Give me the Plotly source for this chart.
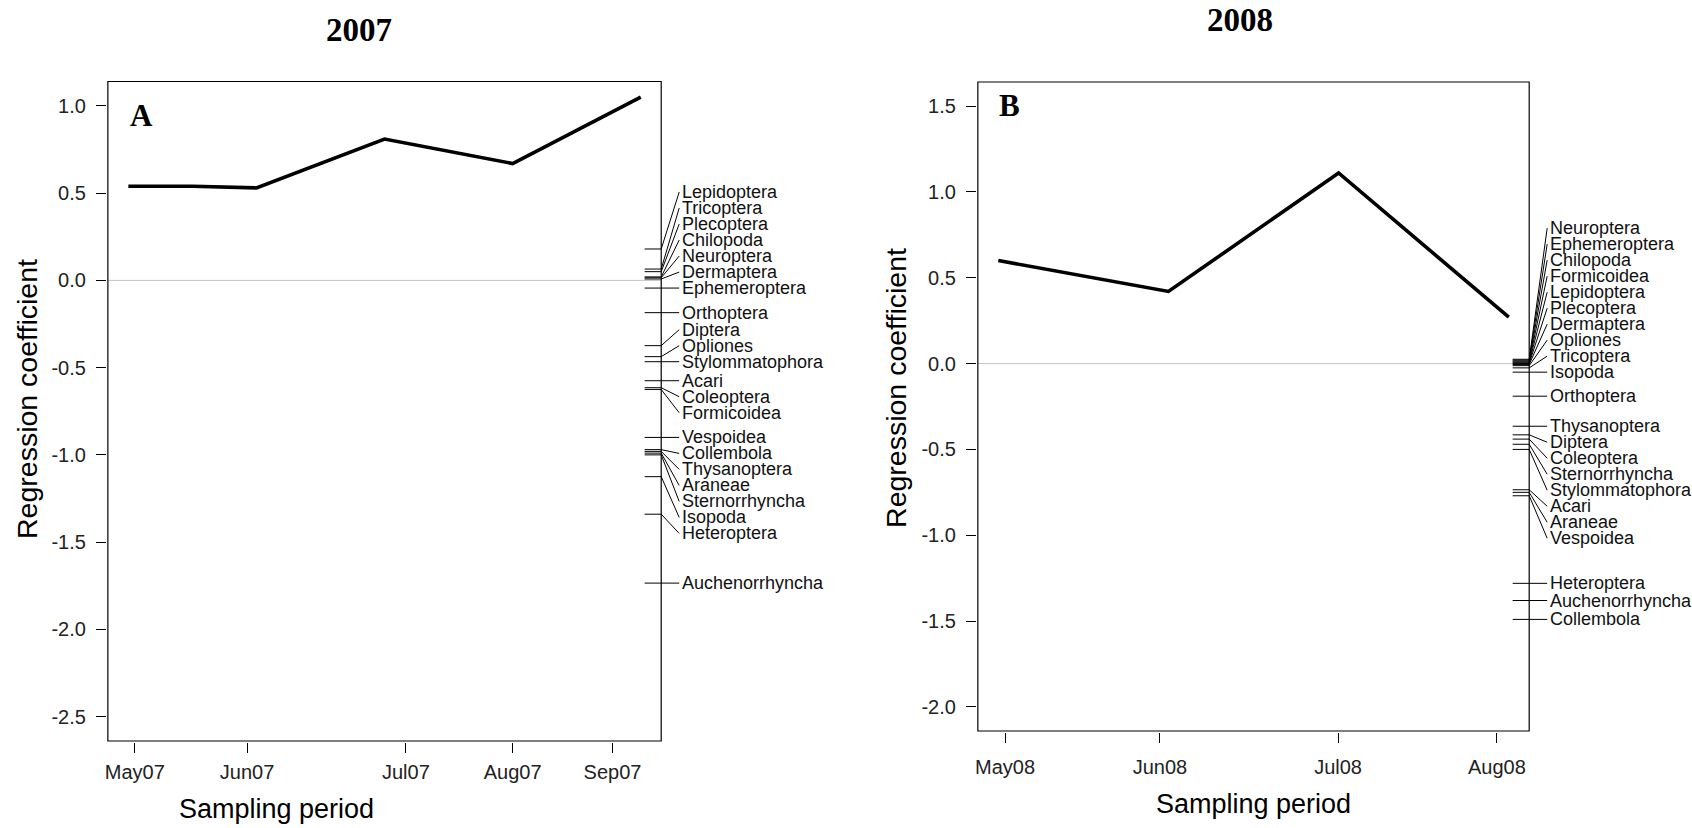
import plotly.graph_objects as go

FIG_W, FIG_H = 1692, 828
SANS = "Liberation Sans, Arial, sans-serif"
SERIF = "Liberation Serif, Times New Roman, serif"

# ---------------- 2007 ----------------
days_2007 = [0, 15, 30, 60, 90, 120]
response_2007 = [0.54, 0.54, 0.53, 0.81, 0.67, 1.05]
month_pos_2007 = [1.5, 27.8, 65.0, 90.0, 113.4]
month_lab_2007 = ["May07", "Jun07", "Jul07", "Aug07", "Sep07"]
yticks_2007 = [1.0, 0.5, 0.0, -0.5, -1.0, -1.5, -2.0, -2.5]
taxa_2007 = ["Lepidoptera", "Tricoptera", "Plecoptera", "Chilopoda", "Neuroptera",
             "Dermaptera", "Ephemeroptera", "Orthoptera", "Diptera", "Opliones",
             "Stylommatophora", "Acari", "Coleoptera", "Formicoidea", "Vespoidea",
             "Collembola", "Thysanoptera", "Araneae", "Sternorrhyncha", "Isopoda",
             "Heteroptera", "Auchenorrhyncha"]
weights_2007 = [0.18, 0.065, 0.05, 0.02, 0.015,
                0.008, -0.044, -0.185, -0.374, -0.437,
                -0.466, -0.575, -0.615, -0.625, -0.90,
                -0.97, -0.98, -0.99, -1.0, -1.125,
                -1.34, -1.735]

# ---------------- 2008 ----------------
days_2008 = [0, 30, 60, 90]
response_2008 = [0.60, 0.42, 1.11, 0.27]
month_pos_2008 = [1.2, 28.5, 59.9, 87.9]
month_lab_2008 = ["May08", "Jun08", "Jul08", "Aug08"]
yticks_2008 = [1.5, 1.0, 0.5, 0.0, -0.5, -1.0, -1.5, -2.0]
taxa_2008 = ["Neuroptera", "Ephemeroptera", "Chilopoda", "Formicoidea", "Lepidoptera",
             "Plecoptera", "Dermaptera", "Opliones", "Tricoptera", "Isopoda",
             "Orthoptera", "Thysanoptera", "Diptera", "Coleoptera", "Sternorrhyncha",
             "Stylommatophora", "Acari", "Araneae", "Vespoidea", "Heteroptera",
             "Auchenorrhyncha", "Collembola"]
weights_2008 = [0.025, 0.02, 0.015, 0.01, 0.005,
                0.0, -0.005, -0.012, -0.025, -0.05,
                -0.19, -0.365, -0.415, -0.44, -0.47,
                -0.50, -0.735, -0.75, -0.77, -1.28,
                -1.38, -1.49]


def stack_labels(values, gap):
    """Spread label heights so neighbours are at least `gap` apart (middle-out)."""
    order = sorted(range(len(values)), key=lambda i: values[i])
    x = [values[i] for i in order]
    pos = list(x)
    n = len(x)
    nm = n // 2
    for i in range(nm, n):
        pos[i] = max(x[i], pos[i - 1] + gap)
    for i in range(nm - 1, -1, -1):
        pos[i] = min(x[i], pos[i + 1] - gap)
    out = [0.0] * n
    for k, i in enumerate(order):
        out[i] = pos[k]
    return out


fig = go.Figure()
shapes, annotations = [], []


def add_panel(n, days, resp, mpos, mlab, yticks, taxa, weights, frame, right_edge,
              xlab_standoff):
    xa_name = "xaxis" if n == 1 else f"xaxis{n}"
    ya_name = "yaxis" if n == 1 else f"yaxis{n}"
    xr = "x" if n == 1 else f"x{n}"
    yr = "y" if n == 1 else f"y{n}"
    fx0, fx1, fyt, fyb = frame

    lo, hi = min(days), max(days)
    px = 0.04 * (hi - lo)
    bx0, bx1 = lo - px, hi + px
    ylo, yhi = min(yticks), max(yticks)
    py = 0.04 * (yhi - ylo)
    by0, by1 = ylo - py, yhi + py

    ux = (bx1 - bx0) / (fx1 - fx0)
    uy = (by1 - by0) / (fyb - fyt)

    fig.update_layout({
        xa_name: dict(
            domain=[(fx0 - 1) / FIG_W, right_edge / FIG_W],
            range=[bx0 - ux, bx1 + (right_edge - fx1) * ux],
            tickvals=mpos, ticktext=mlab, ticks="outside", ticklen=10,
            tickcolor="black", tickwidth=1, showline=False, showgrid=False,
            zeroline=False, anchor=yr, ticklabelstandoff=xlab_standoff,
            tickfont=dict(family=SANS, size=20, color="#222"),
        ),
        ya_name: dict(
            domain=[1 - (fyb + 1) / FIG_H, 1 - (fyt - 1) / FIG_H],
            range=[by0 - uy, by1 + uy],
            tickvals=yticks, ticktext=[f"{v:.1f}" for v in yticks],
            ticks="outside", ticklen=10, tickcolor="black", tickwidth=1,
            showline=False, showgrid=False, zeroline=False, anchor=xr,
            ticklabelstandoff=6,
            tickfont=dict(family=SANS, size=20, color="#222"),
        ),
    })

    # reference line at zero
    shapes.append(dict(type="line", xref=xr, yref=yr, x0=bx0, x1=bx1, y0=0, y1=0,
                       line=dict(color="#c4c4c4", width=1), layer="below"))
    # plot box
    shapes.append(dict(type="rect", xref=xr, yref=yr, x0=bx0, x1=bx1, y0=by0, y1=by1,
                       line=dict(color="black", width=1.2), layer="above"))

    # principal response curve
    fig.add_trace(go.Scatter(x=days, y=resp, mode="lines", xaxis=xr, yaxis=yr,
                             line=dict(color="black", width=3.6), showlegend=False,
                             hoverinfo="skip"))

    # taxon weights: rug ticks on the right edge plus leader lines to labels
    pos = stack_labels(weights, 16 * uy)
    rug_len = 0.03 * (bx1 - bx0)
    xs, ys = [], []
    for w, p in zip(weights, pos):
        xs += [bx1 - rug_len, bx1, bx1 + 18 * ux, None]
        ys += [w, w, p, None]
    fig.add_trace(go.Scatter(x=xs, y=ys, mode="lines", xaxis=xr, yaxis=yr,
                             line=dict(color="black", width=1), showlegend=False,
                             hoverinfo="skip"))
    for name, p in zip(taxa, pos):
        annotations.append(dict(x=bx1 + 19 * ux, y=p, xref=xr, yref=yr, text=name,
                                showarrow=False, xanchor="left", yanchor="middle",
                                font=dict(family=SANS, size=18, color="#111")))


add_panel(1, days_2007, response_2007, month_pos_2007, month_lab_2007, yticks_2007,
          taxa_2007, weights_2007, frame=(106, 660, 81.5, 741), right_edge=880,
          xlab_standoff=2)
add_panel(2, days_2008, response_2008, month_pos_2008, month_lab_2008, yticks_2008,
          taxa_2008, weights_2008, frame=(977, 1529, 82, 731), right_edge=1692,
          xlab_standoff=7)


def paper_text(text, x, y, size, family, bold=False, angle=0):
    annotations.append(dict(
        x=x / FIG_W, y=1 - y / FIG_H, xref="paper", yref="paper",
        text=f"<b>{text}</b>" if bold else text, showarrow=False,
        xanchor="center", yanchor="middle", textangle=angle,
        font=dict(family=family, size=size, color="black")))


paper_text("2007", 357, 30, 33, SERIF, bold=True)
paper_text("2008", 1239, 20, 33, SERIF, bold=True)
paper_text("A", 140, 116, 31, SERIF, bold=True)
paper_text("B", 1009, 105, 31, SERIF, bold=True)
paper_text("Regression coefficient", 25, 399, 28.5, SANS, angle=-90)
paper_text("Regression coefficient", 895, 388, 28.5, SANS, angle=-90)
paper_text("Sampling period", 275, 809, 27, SANS)
paper_text("Sampling period", 1253, 804, 27, SANS)

fig.update_layout(
    width=FIG_W, height=FIG_H,
    margin=dict(l=0, r=0, t=0, b=0),
    paper_bgcolor="white", plot_bgcolor="white",
    shapes=shapes, annotations=annotations,
    showlegend=False,
)

fig.write_html("out.html")
